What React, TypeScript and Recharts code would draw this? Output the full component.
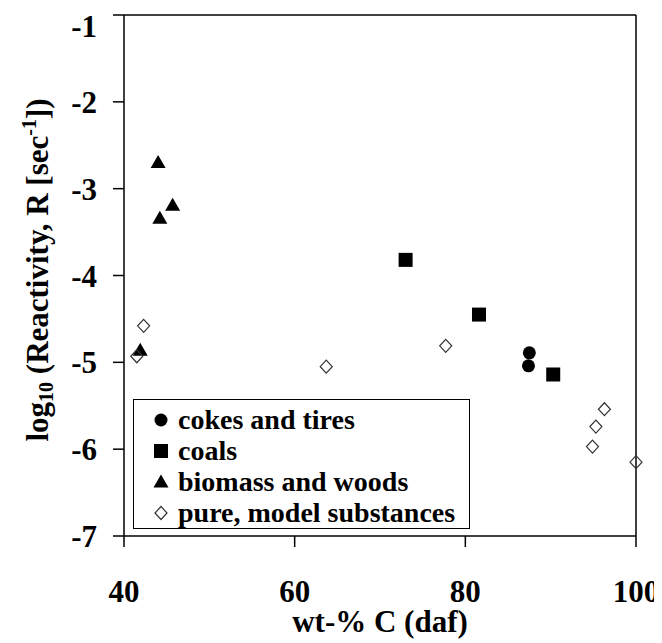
import React from 'react';
import { ScatterChart, Scatter, XAxis, YAxis, ReferenceLine } from 'recharts';

// values
const cokesX = [87.5, 87.4];
const cokesY = [-4.89, -5.04];

const coalsX = [73.0, 81.6, 90.3];
const coalsY = [-3.82, -4.45, -5.14];

const biomassX = [44.0, 44.2, 45.7, 41.9];
const biomassY = [-2.7, -3.34, -3.19, -4.86];

const pureX = [42.3, 41.5, 63.7, 77.7, 96.3, 95.3, 94.9, 100];
const pureY = [-4.58, -4.93, -5.05, -4.81, -5.54, -5.74, -5.97, -6.15];

const xTicks = [40, 60, 80, 100];
const yTicks = [-7, -6, -5, -4, -3, -2, -1];

const FONT = '"Liberation Serif", "Times New Roman", serif';

const toPoints = (xs: number[], ys: number[]) => xs.map((x, i) => ({ x, y: ys[i] }));

// marker shapes
const CircleMark = ({ cx, cy }: any) => <circle cx={cx} cy={cy} r={6.5} fill="#000" />;
const SquareMark = ({ cx, cy }: any) => <rect x={cx - 7} y={cy - 7} width={14} height={14} fill="#000" />;
const TriangleMark = ({ cx, cy }: any) => (
    <path d={`M${cx},${cy - 7.5}L${cx + 7.5},${cy + 5.5}L${cx - 7.5},${cy + 5.5}Z`} fill="#000" />
);
const DiamondMark = ({ cx, cy }: any) => (
    <path d={`M${cx},${cy - 6.5}L${cx + 6},${cy}L${cx},${cy + 6.5}L${cx - 6},${cy}Z`} fill="none" stroke="#333" strokeWidth={1.2} />
);

const series = [
    { name: 'cokes and tires', data: toPoints(cokesX, cokesY), Shape: CircleMark },
    { name: 'coals', data: toPoints(coalsX, coalsY), Shape: SquareMark },
    { name: 'biomass and woods', data: toPoints(biomassX, biomassY), Shape: TriangleMark },
    { name: 'pure, model substances', data: toPoints(pureX, pureY), Shape: DiamondMark },
];

// legend drawn as an overlay so it doesn't eat into the plot area
const LegendBox = () => (
    <div
        style={{
            position: 'absolute',
            left: 125,
            top: 391,
            border: '1.5px solid #000',
            width: 337,
            height: 130,
            boxSizing: 'border-box',
            paddingTop: 4,
            fontFamily: FONT,
            fontWeight: 'bold',
            fontSize: 28,
            background: '#fff',
        }}
    >
        {series.map(s => (
            <div key={s.name} style={{ display: 'flex', alignItems: 'center', height: 31 }}>
                <svg width={16} height={16} style={{ marginLeft: 19, marginRight: 9 }}>
                    <s.Shape cx={8} cy={8} />
                </svg>
                <span style={{ lineHeight: '31px' }}>{s.name}</span>
            </div>
        ))}
    </div>
);

const YTitle = () => (
    <text
        x={40}
        y={262}
        transform="rotate(-90, 40, 262)"
        textAnchor="middle"
        fontFamily={FONT}
        fontWeight="bold"
        fontSize={31}
        fill="#000"
    >
        log<tspan fontSize={20} dy={5}>10</tspan>
        <tspan dy={-5}> (Reactivity, R [sec</tspan>
        <tspan fontSize={20} dy={-12}>-1</tspan>
        <tspan dy={12}>])</tspan>
    </text>
);

export default function App() {
    const tickStyle = { fill: '#000', fontSize: 31, fontWeight: 'bold', fontFamily: FONT };
    return (
        <div style={{ position: 'relative', width: 654, height: 635 }}>
            <style>{'html, body { overflow: hidden; }'}</style>
            <ScatterChart width={654} height={635} margin={{ top: 7, right: 26, bottom: 8, left: 0 }}>
                <XAxis
                    type="number"
                    dataKey="x"
                    domain={[40, 100]}
                    ticks={xTicks}
                    tickSize={11}
                    tickMargin={33}
                    tick={tickStyle}
                    axisLine={{ stroke: '#000', strokeWidth: 1.5 }}
                    tickLine={{ stroke: '#000', strokeWidth: 1.5 }}
                    height={99}
                    label={{ value: 'wt-% C (daf)', position: 'insideBottom', offset: 3, fill: '#000', fontSize: 31, fontWeight: 'bold', fontFamily: FONT }}
                />
                <YAxis
                    type="number"
                    dataKey="y"
                    domain={[-7, -1]}
                    ticks={yTicks}
                    tickSize={11}
                    tickMargin={16}
                    tick={tickStyle}
                    axisLine={{ stroke: '#000', strokeWidth: 1.5 }}
                    tickLine={{ stroke: '#000', strokeWidth: 1.5 }}
                    width={116}
                    label={{ content: () => <YTitle /> }}
                />
                <ReferenceLine y={-1} stroke="#000" strokeWidth={1.5} />
                <ReferenceLine x={100} stroke="#000" strokeWidth={1.5} />
                {series.map(s => (
                    <Scatter
                        key={s.name}
                        name={s.name}
                        data={s.data}
                        shape={(p: any) => <s.Shape cx={p.cx} cy={p.cy} />}
                        isAnimationActive={false}
                    />
                ))}
            </ScatterChart>
            <LegendBox />
        </div>
    );
}
